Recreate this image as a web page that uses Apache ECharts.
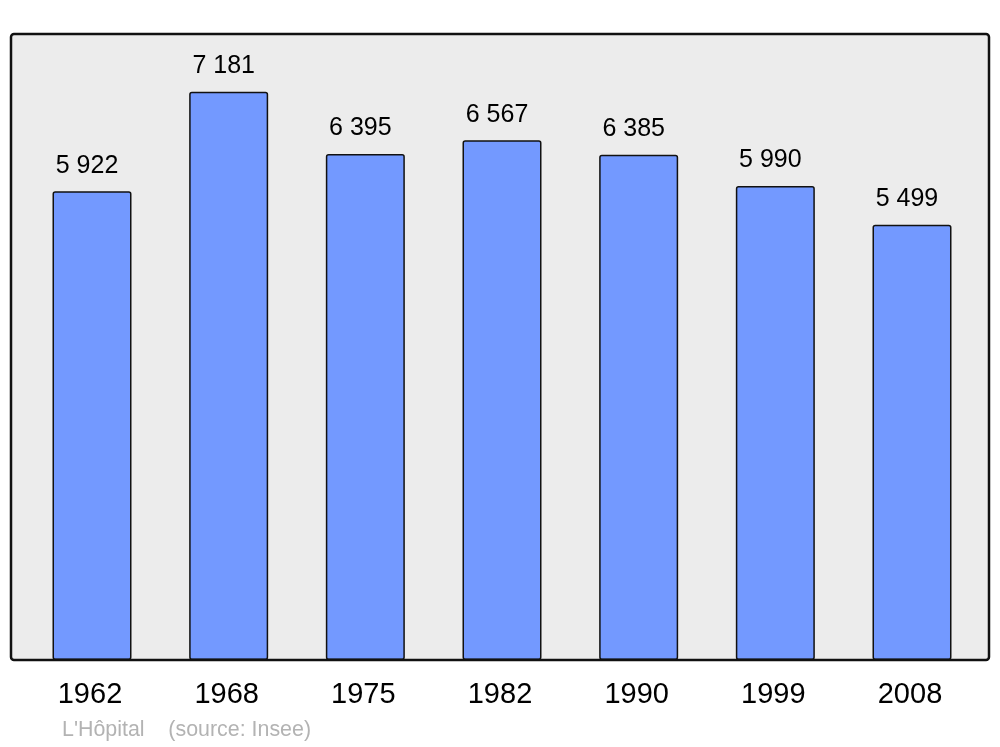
<!DOCTYPE html>
<html>
<head>
<meta charset="utf-8">
<script src="https://cdn.jsdelivr.net/npm/echarts@6/dist/echarts.min.js"></script>
<style>html,body{margin:0;padding:0;background:#fff;}#c{width:1000px;height:747px;}</style>
</head>
<body>
<div id="c"></div>
<script>
const years = ['1962', '1968', '1975', '1982', '1990', '1999', '2008'];
const population = [5922, 7181, 6395, 6567, 6385, 5990, 5499];
const footnote = "L'Hôpital    (source: Insee)";

const fmt = v => String(v).replace(/\B(?=(\d{3})+(?!\d))/g, ' ');
const chart = echarts.init(document.getElementById('c'), null, {renderer: 'canvas'});
chart.setOption({
  animation: false,
  textStyle: {fontFamily: 'Liberation Sans, Arial, sans-serif'},
  graphic: [
    {type: 'rect', z: -10, shape: {x: 11, y: 34, width: 978, height: 626, r: 3},
     style: {fill: '#ececec', stroke: 'none'}},
    {type: 'rect', z: 100, shape: {x: 11, y: 34, width: 978, height: 626, r: 3},
     style: {fill: 'none', stroke: '#111', lineWidth: 2.5}},
    {type: 'text', left: 62, top: 720,
     style: {text: footnote, fill: '#b3b3b3', font: '21.4px Liberation Sans, Arial, sans-serif'}}
  ],
  grid: {left: 23.67, right: 19.67, top: 34, bottom: 87},
  xAxis: {
    type: 'category', data: years,
    axisLine: {show: false}, axisTick: {show: false},
    axisLabel: {color: '#000', fontSize: 29, margin: 20, padding: [0, 4, 0, 0]}
  },
  yAxis: {type: 'value', min: 0, max: 7910, show: false, splitLine: {show: false}},
  series: [{
    type: 'bar', data: population, barWidth: 79,
    itemStyle: {color: '#7399ff', borderColor: '#111', borderWidth: 1.5, borderRadius: 2},
    label: {show: true, position: 'top', distance: 13, offset: [-5, 0], color: '#000', fontSize: 25,
      formatter: p => fmt(p.value)}
  }]
});
</script>
</body>
</html>
